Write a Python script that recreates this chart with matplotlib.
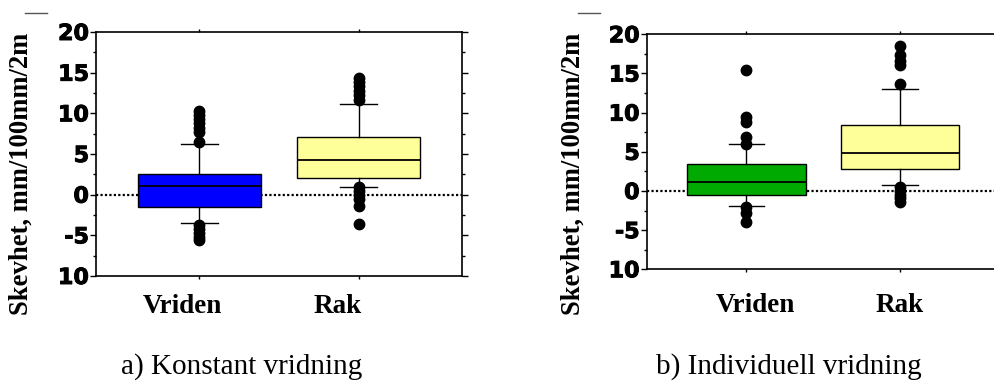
import matplotlib
matplotlib.use("Agg")
import matplotlib.pyplot as plt
import matplotlib.patheffects as pe
from matplotlib.lines import Line2D
from matplotlib.ticker import MultipleLocator, FixedLocator

# box statistics read per group: q1, median, q3, whisker ends, outliers
groups = ["Vriden", "Rak"]

konst_q1 = [-1.5, 2.0]
konst_med = [1.1, 4.3]
konst_q3 = [2.6, 7.1]
konst_lo = [-3.5, 1.0]
konst_hi = [6.2, 11.2]
konst_fliers = [
    [10.3, 9.8, 9.3, 8.8, 8.2, 7.7, 6.5, -3.7, -4.2, -4.7, -5.2, -5.6],
    [14.3, 13.8, 13.3, 12.8, 12.3, 11.6, 0.9, 0.5, 0.0, -0.5, -1.4, -3.6],
]

indiv_q1 = [-0.5, 2.8]
indiv_med = [1.1, 4.8]
indiv_q3 = [3.4, 8.4]
indiv_lo = [-1.9, 0.7]
indiv_hi = [6.0, 13.0]
indiv_fliers = [
    [15.4, 9.4, 8.8, 6.9, 6.0, -2.0, -2.8, -4.0],
    [18.5, 17.4, 16.6, 16.1, 13.7, 0.5, 0.0, -0.5, -0.9, -1.4],
]

yticks = [20, 15, 10, 5, 0, -5, -10]
ytick_labels = ["20", "15", "10", "5", "0", "-5", "10"]

colors_a = ["#0000ff", "#ffff99"]
colors_b = ["#00aa00", "#ffff99"]


def make_stats(q1, med, q3, lo, hi, fl):
    out = []
    for i in range(len(groups)):
        out.append(dict(q1=q1[i], med=med[i], q3=q3[i], whislo=lo[i],
                        whishi=hi[i], fliers=fl[i], label=groups[i]))
    return out


def draw_panel(ax, stats, colors, label_x, label_y, right_spine=True):
    ax.axhline(0, color="black", lw=1.6, ls=(0, (1, 1)), zorder=1)
    bp = ax.bxp(stats, positions=[1, 2], widths=0.77, patch_artist=True,
                showfliers=True, manage_ticks=False,
                boxprops=dict(edgecolor="black", linewidth=1.0),
                medianprops=dict(color="black", linewidth=1.3),
                whiskerprops=dict(color="black", linewidth=1.0),
                capprops=dict(color="black", linewidth=1.0),
                capwidths=0.23,
                flierprops=dict(marker="o", markerfacecolor="black",
                                markeredgecolor="black", markersize=7.5))
    for patch, c in zip(bp["boxes"], colors):
        patch.set_facecolor(c)
        patch.set_zorder(2)
    ax.set_xlim(0.35, 2.65)
    ax.set_ylim(-10, 20)
    ax.yaxis.set_major_locator(FixedLocator(yticks))
    ax.set_yticklabels(ytick_labels, fontfamily="DejaVu Sans",
                       fontweight="bold", fontsize=16)
    for t in ax.get_yticklabels():
        t.set_path_effects([pe.withStroke(linewidth=0.7, foreground="black")])
    ax.yaxis.set_minor_locator(MultipleLocator(2.5))
    ax.tick_params(axis="y", which="major", direction="out", length=4,
                   width=1, pad=1, left=True, right=right_spine)
    ax.tick_params(axis="y", which="minor", direction="out", length=2.5,
                   width=1, left=True, right=right_spine)
    ax.set_xticks([1, 2])
    ax.set_xticklabels([])
    ax.tick_params(axis="x", direction="out", length=2.5, width=1,
                   top=True, bottom=True)
    for side in ax.spines:
        ax.spines[side].set_linewidth(1.2)
    ax.spines["right"].set_visible(right_spine)
    for x, name in zip(label_x, groups):
        ax.text(x, label_y, name, transform=ax.get_xaxis_transform(),
                ha="center", va="center", fontfamily="Liberation Serif",
                fontweight="bold", fontsize=19.5)


fig = plt.figure(figsize=(9.94, 3.87), dpi=100)

ax1 = fig.add_axes([96 / 994, 1 - 276 / 387, 366 / 994, 244 / 387])
draw_panel(ax1, make_stats(konst_q1, konst_med, konst_q3, konst_lo,
                           konst_hi, konst_fliers),
           colors_a, [0.89, 1.87], -0.127)

ax2 = fig.add_axes([646.7 / 994, 1 - 269.3 / 387, 353 / 994, 235 / 387])
draw_panel(ax2, make_stats(indiv_q1, indiv_med, indiv_q3, indiv_lo,
                           indiv_hi, indiv_fliers),
           colors_b, [1.06, 2.0], -0.152, right_spine=False)

ylab = "Skevhet, mm/100mm/2m"
fig.text(21 / 994, 1 - 174 / 387, ylab, rotation=90, ha="center",
         va="center", fontfamily="Liberation Serif", fontweight="bold",
         fontsize=19.2)
fig.text(573 / 994, 1 - 174 / 387, ylab, rotation=90, ha="center",
         va="center", fontfamily="Liberation Serif", fontweight="bold",
         fontsize=19.2)

fig.text(242 / 994, 1 - 367 / 387, "a) Konstant vridning", ha="center",
         va="center", fontfamily="Liberation Serif", fontsize=21)
fig.text(789 / 994, 1 - 367 / 387, "b) Individuell vridning", ha="center",
         va="center", fontfamily="Liberation Serif", fontsize=21)

# short grey dashes above each panel
for x0, x1 in [(25, 47), (578, 600)]:
    fig.add_artist(Line2D([x0 / 994, x1 / 994], [1 - 13 / 387, 1 - 13 / 387],
                          color="#555555", lw=1.0))

fig.savefig("out.png", dpi=100)
